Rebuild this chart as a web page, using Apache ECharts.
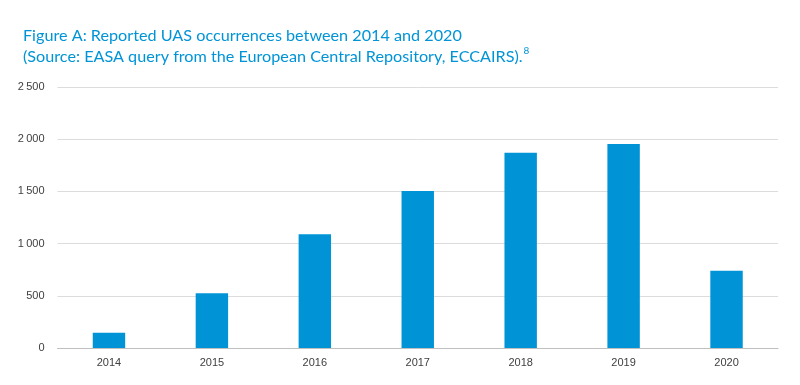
<!DOCTYPE html>
<html><head><meta charset="utf-8">
<script src="https://cdn.jsdelivr.net/npm/echarts@6/dist/echarts.min.js"></script>
<style>html,body{margin:0;padding:0;background:#fff}#c{width:800px;height:385px}</style>
</head><body><div id="c"></div>
<script>
const categories = ['2014','2015','2016','2017','2018','2019','2020'];
const occurrences = [145, 525, 1090, 1505, 1870, 1955, 740];
const yTicks = [0, 500, 1000, 1500, 2000, 2500];
const titleLine1 = 'Figure A: Reported UAS occurrences between 2014 and 2020';
const titleLine2 = '(Source: EASA query from the European Central Repository, ECCAIRS).';
const footnote = '8';

const chart = echarts.init(document.getElementById('c'), null, {renderer:'canvas'});
const blue = '#0094d7';
chart.setOption({
  animation: false,
  title: {
    left: 18, top: 20,
    text: '{t|' + titleLine1 + '}\n{t|' + titleLine2 + '}{s|' + footnote + '}',
    textStyle: {
      rich: {
        t: {fontFamily: 'Lato', fontSize: 16.2, fontWeight: 'normal', color: blue, lineHeight: 21},
        s: {fontFamily: 'Lato', fontSize: 10, fontWeight: 'normal', color: blue, lineHeight: 21, verticalAlign: 'top', padding:[0,0,8,1]}
      }
    }
  },
  grid: {left: 57.5, right: 22, top: 87, bottom: 37, containLabel: false},
  xAxis: {
    type: 'category', data: categories,
    axisLine: {show: true, lineStyle: {color: '#bfbfbf', width: 1}},
    axisTick: {show: false},
    axisLabel: {color: '#404040', fontFamily: 'Liberation Sans', fontSize: 11, margin: 9}
  },
  yAxis: {
    type: 'value', min: 0, max: 2500, interval: 500,
    axisLine: {show: false}, axisTick: {show: false},
    splitLine: {lineStyle: {color: '#dcdcdc', width: 1}},
    axisLabel: {color: '#404040', fontFamily: 'Liberation Sans', fontSize: 11, margin: 13,
      formatter: v => yTicks.includes(v) ? (v >= 1000 ? Math.floor(v/1000) + '\u202F' + String(v%1000).padStart(3,'0') : String(v)) : ''}
  },
  series: [{
    type: 'bar', data: occurrences, barWidth: '31.5%',
    itemStyle: {color: blue}
  }]
});
</script></body></html>
